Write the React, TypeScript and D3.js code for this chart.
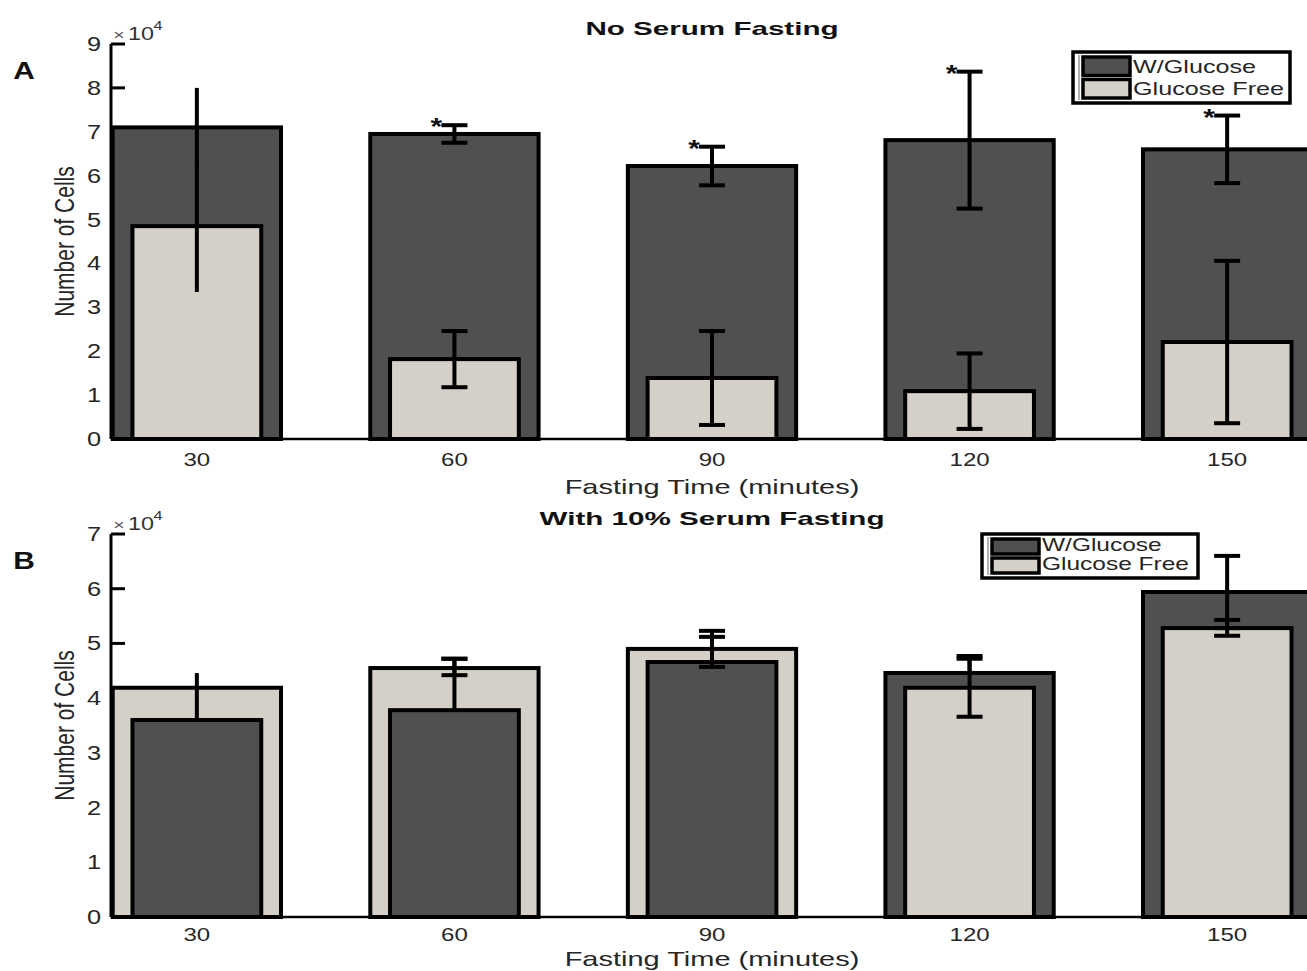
import React from 'react';
import * as d3 from 'd3';

// fasting time categories (minutes)
const categories = [30, 60, 90, 120, 150];

// Panel A: no serum fasting (x10^4 cells)
const wGlucoseA = [7.1, 6.95, 6.22, 6.81, 6.6];
const freeA = [4.85, 1.82, 1.39, 1.09, 2.21];
const wLowA = [6.2, 6.75, 5.78, 5.25, 5.83];
const wHighA = [8.0, 7.15, 6.66, 8.37, 7.37];
const freeLowA = [3.35, 1.18, 0.32, 0.23, 0.36];
const freeHighA = [6.35, 2.46, 2.46, 1.95, 4.06];
const starsA = [false, true, true, true, true];

// Panel B: with 10% serum fasting
const wGlucoseB = [3.6, 3.78, 4.66, 4.46, 5.94];
const freeB = [4.19, 4.55, 4.9, 4.19, 5.28];
const wLowB = [3.6, 3.78, 4.66, 4.46, 5.28];
const wHighB = [4.46, 4.72, 5.12, 4.77, 6.6];
const freeLowB = [4.19, 4.42, 4.57, 3.66, 5.14];
const freeHighB = [4.19, 4.72, 5.23, 4.72, 5.43];
const starsB = [false, false, false, false, false];

const capped = [false, true, true, true, true];

const DARK = '#505050';
const LIGHT = '#d4d0c8';
const FONT = '"Liberation Sans", Arial, sans-serif';
const SX = 1.3; // the picture is stretched horizontally

function T({ x, y, size, children, anchor = 'middle', bold = false, fill = '#262626', sx = SX }) {
    return (
        <text
            transform={`translate(${x},${y}) scale(${sx},1)`}
            textAnchor={anchor}
            fontSize={size}
            fontWeight={bold ? 'bold' : 'normal'}
            fontFamily={FONT}
            fill={fill}
        >
            {children}
        </text>
    );
}

function Panel({ top, bottom, yMax, title, letter, w, free, wLow, wHigh, fLow, fHigh, stars, legend, tickGap, xlabelGap }) {
    const x = d3.scaleLinear().domain([20, 160]).range([111, 1313]);
    const y = d3.scaleLinear().domain([0, yMax]).range([bottom, top]);
    const wideHalf = 9.8;
    const narrowHalf = 7.5;
    const capHalf = 13;

    const bars = categories.map((c, i) => {
        const wIsWide = w[i] >= free[i];
        return {
            c,
            wide: { v: wIsWide ? w[i] : free[i], fill: wIsWide ? DARK : LIGHT },
            narrow: { v: wIsWide ? free[i] : w[i], fill: wIsWide ? LIGHT : DARK },
        };
    });

    const errs = [];
    categories.forEach((c, i) => {
        errs.push({ c, i, v: w[i], lo: wLow[i], hi: wHigh[i] });
        errs.push({ c, i, v: free[i], lo: fLow[i], hi: fHigh[i] });
    });

    return (
        <g>
            {/* axes */}
            <line x1={x(20)} x2={x(160)} y1={y(0)} y2={y(0)} stroke="black" strokeWidth={2.5} />
            <line x1={x(20)} x2={x(20)} y1={y(0)} y2={y(yMax)} stroke="black" strokeWidth={3} />
            {d3.range(0, yMax + 1).map(t => (
                <g key={t}>
                    <line x1={x(20)} x2={x(20) + 14} y1={y(t)} y2={y(t)} stroke="black" strokeWidth={3} />
                    <T x={101} y={y(t) + 7} size={19.5} anchor="end">{t}</T>
                </g>
            ))}
            {/* x10^4 */}
            <T x={119} y={top - 4} size={15} fill="#555">×</T>
            <T x={141} y={top - 4} size={18} fill="#333">10</T>
            <T x={158} y={top - 14} size={12.5} fill="#333">4</T>

            {/* bars */}
            {bars.map(b => (
                <g key={b.c}>
                    <rect
                        x={x(b.c - wideHalf)}
                        y={y(b.wide.v)}
                        width={x(b.c + wideHalf) - x(b.c - wideHalf)}
                        height={y(0) - y(b.wide.v)}
                        fill={b.wide.fill}
                        stroke="black"
                        strokeWidth={4}
                    />
                    <rect
                        x={x(b.c - narrowHalf)}
                        y={y(b.narrow.v)}
                        width={x(b.c + narrowHalf) - x(b.c - narrowHalf)}
                        height={y(0) - y(b.narrow.v)}
                        fill={b.narrow.fill}
                        stroke="black"
                        strokeWidth={4}
                    />
                </g>
            ))}

            {/* error bars */}
            {errs.map((e, k) => (
                <g key={k} stroke="black" strokeWidth={4}>
                    {e.hi !== e.lo && <line x1={x(e.c)} x2={x(e.c)} y1={y(e.lo)} y2={y(e.hi)} />}
                    {capped[e.i] && e.hi !== e.v && (
                        <line x1={x(e.c) - capHalf} x2={x(e.c) + capHalf} y1={y(e.hi)} y2={y(e.hi)} />
                    )}
                    {capped[e.i] && e.lo !== e.v && (
                        <line x1={x(e.c) - capHalf} x2={x(e.c) + capHalf} y1={y(e.lo)} y2={y(e.lo)} />
                    )}
                </g>
            ))}

            {/* significance */}
            {categories.map((c, i) => stars[i] && (
                <T key={c} x={x(c) - 18} y={y(wHigh[i]) + 10} size={23} bold fill="#111">*</T>
            ))}

            {/* x tick labels */}
            {categories.map(c => (
                <T key={c} x={x(c)} y={bottom + tickGap} size={18.5}>{c}</T>
            ))}
            <T x={712} y={bottom + xlabelGap} size={20} sx={1.45}>Fasting Time (minutes)</T>
            <T x={712} y={top - 9} size={18.5} sx={1.6} bold fill="#111">{title}</T>
            <T x={24} y={top + 35} size={23} bold fill="#111">{letter}</T>

            <text
                transform={`translate(74,${(top + bottom) / 2}) rotate(-90) scale(1,${SX})`}
                textAnchor="middle"
                fontSize={21}
                fontFamily={FONT}
                fill="#262626"
            >
                Number of Cells
            </text>

            {/* legend */}
            <g>
                <rect x={legend.x} y={legend.y} width={legend.w} height={legend.h} fill="white" stroke="black" strokeWidth={3.5} />
                <line x1={legend.x + 6} x2={legend.x + 6} y1={legend.y + 3} y2={legend.y + legend.h - 3} stroke="#999" strokeWidth={1.5} />
                {[{ label: 'W/Glucose', fill: DARK }, { label: 'Glucose Free', fill: LIGHT }].map((d, i) => {
                    const rowH = (legend.h - 6) / 2;
                    const ry = legend.y + 3 + i * rowH;
                    return (
                        <g key={d.label}>
                            <rect x={legend.x + 10} y={ry + 2} width={47} height={rowH - 4} fill={d.fill} stroke="black" strokeWidth={3.5} />
                            <T x={legend.x + 60} y={ry + rowH - 5} size={legend.font} sx={1.4} anchor="start">{d.label}</T>
                        </g>
                    );
                })}
            </g>
        </g>
    );
}

export default function App() {
    return (
        <svg width={1307} height={971} style={{ position: 'absolute', left: 0, top: 0, background: 'white' }}>
            <Panel
                top={44}
                bottom={439}
                yMax={9}
                title="No Serum Fasting"
                letter="A"
                w={wGlucoseA}
                free={freeA}
                wLow={wLowA}
                wHigh={wHighA}
                fLow={freeLowA}
                fHigh={freeHighA}
                stars={starsA}
                legend={{ x: 1073, y: 52, w: 217, h: 51, font: 18 }}
                tickGap={27}
                xlabelGap={55}
            />
            <Panel
                top={534}
                bottom={917}
                yMax={7}
                title="With 10% Serum Fasting"
                letter="B"
                w={wGlucoseB}
                free={freeB}
                wLow={wLowB}
                wHigh={wHighB}
                fLow={freeLowB}
                fHigh={freeHighB}
                stars={starsB}
                legend={{ x: 982, y: 534, w: 216, h: 44, font: 17.5 }}
                tickGap={24}
                xlabelGap={49}
            />
        </svg>
    );
}
